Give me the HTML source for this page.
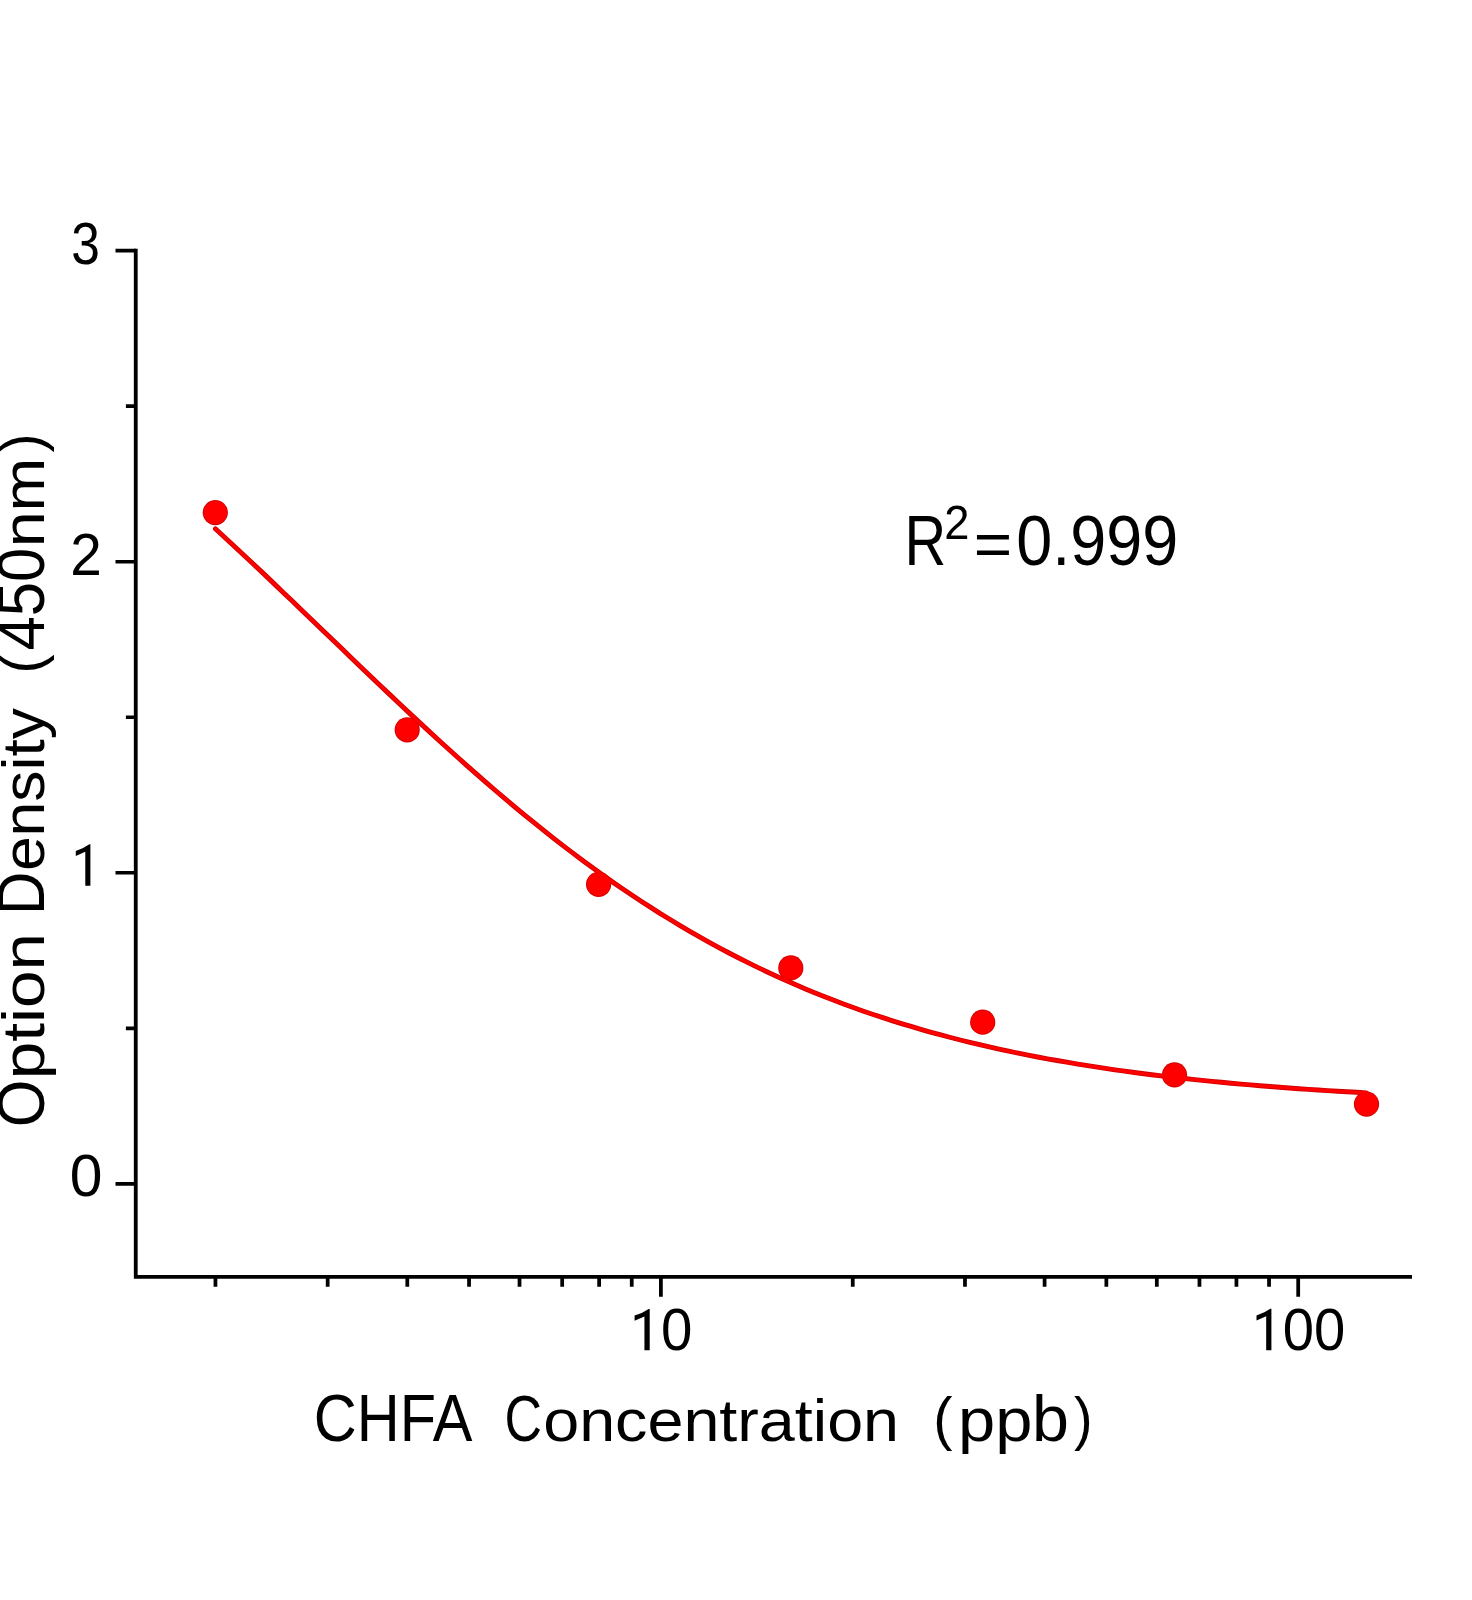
<!DOCTYPE html>
<html><head><meta charset="utf-8"><style>
html,body{margin:0;padding:0;background:#fff;}
svg{display:block;will-change:transform;}
text{font-family:"Liberation Sans",sans-serif;fill:#000;}
</style></head><body>
<svg width="1472" height="1600" viewBox="0 0 1472 1600">
<rect width="1472" height="1600" fill="#fff"/>
<path d="M135.75,248.8 V1278.8 M133.85,1276.9 H1412" fill="none" stroke="#000" stroke-width="3.8"/>
<path d="M115.5,1183.90 H136 M115.5,872.80 H136 M115.5,561.70 H136 M115.5,250.60 H136 M125.9,1028.35 H136 M125.9,717.25 H136 M125.9,406.15 H136" stroke="#000" stroke-width="3.6"/>
<path d="M660.90,1276 V1296.7 M1298.20,1276 V1296.7 M215.45,1276 V1286.7 M327.67,1276 V1286.7 M407.29,1276 V1286.7 M469.05,1276 V1286.7 M519.52,1276 V1286.7 M562.18,1276 V1286.7 M599.14,1276 V1286.7 M631.74,1276 V1286.7 M852.75,1276 V1286.7 M964.97,1276 V1286.7 M1044.59,1276 V1286.7 M1106.35,1276 V1286.7 M1156.82,1276 V1286.7 M1199.48,1276 V1286.7 M1236.44,1276 V1286.7 M1269.04,1276 V1286.7" stroke="#000" stroke-width="3.75"/>
<g fill="#d00000"><path d="M215.4,528.8 L225.1,537.7 L234.8,546.7 L244.5,555.7 L254.1,564.8 L263.8,573.9 L273.5,583.1 L283.2,592.4 L292.8,601.6 L302.5,610.9 L312.2,620.2 L321.8,629.5 L331.5,638.8 L341.2,648.1 L350.9,657.4 L360.5,666.7 L370.2,676.0 L379.9,685.2 L389.6,694.4 L399.2,703.5 L408.9,712.6 L418.6,721.6 L428.3,730.6 L437.9,739.5 L447.6,748.3 L457.3,757.0 L466.9,765.6 L476.6,774.2 L486.3,782.6 L496.0,791.0 L505.6,799.2 L515.3,807.3 L525.0,815.3 L534.7,823.2 L544.3,830.9 L554.0,838.6 L563.7,846.1 L573.3,853.4 L583.0,860.7 L592.7,867.8 L602.4,874.7 L612.0,881.6 L621.7,888.2 L631.4,894.8 L641.1,901.2 L650.7,907.4 L660.4,913.6 L670.1,919.5 L679.7,925.4 L689.4,931.1 L699.1,936.6 L708.8,942.1 L718.4,947.3 L728.1,952.5 L737.8,957.5 L747.5,962.4 L757.1,967.1 L766.8,971.7 L776.5,976.2 L786.1,980.6 L795.8,984.8 L805.5,988.9 L815.2,992.9 L824.8,996.8 L834.5,1000.5 L844.2,1004.2 L853.9,1007.7 L863.5,1011.2 L873.2,1014.5 L882.9,1017.7 L892.6,1020.8 L902.2,1023.8 L911.9,1026.7 L921.6,1029.6 L931.2,1032.3 L940.9,1034.9 L950.6,1037.5 L960.3,1040.0 L969.9,1042.4 L979.6,1044.7 L989.3,1046.9 L999.0,1049.1 L1008.6,1051.2 L1018.3,1053.2 L1028.0,1055.1 L1037.6,1057.0 L1047.3,1058.8 L1057.0,1060.5 L1066.7,1062.2 L1076.3,1063.9 L1086.0,1065.4 L1095.7,1066.9 L1105.4,1068.4 L1115.0,1069.8 L1124.7,1071.2 L1134.4,1072.5 L1144.0,1073.7 L1153.7,1075.0 L1163.4,1076.1 L1173.1,1077.3 L1182.7,1078.3 L1192.4,1079.4 L1202.1,1080.4 L1211.8,1081.4 L1221.4,1082.3 L1231.1,1083.2 L1240.8,1084.1 L1250.4,1084.9 L1260.1,1085.7 L1269.8,1086.5 L1279.5,1087.3 L1289.1,1088.0 L1298.8,1088.7 L1308.5,1089.4 L1318.2,1090.0 L1327.8,1090.6 L1337.5,1091.2 L1347.2,1091.8 L1356.9,1092.3 L1366.5,1092.9" fill="none" stroke="#d00000" stroke-width="4.9" stroke-linecap="round" stroke-linejoin="round"/>
<circle cx="215.3" cy="512.6" r="12.6"/>
<circle cx="407.2" cy="729.8" r="12.6"/>
<circle cx="598.6" cy="884.3" r="12.6"/>
<circle cx="790.8" cy="967.9" r="12.6"/>
<circle cx="982.7" cy="1022.2" r="12.6"/>
<circle cx="1174.5" cy="1074.9" r="12.6"/>
<circle cx="1366.5" cy="1104.1" r="12.6"/>
</g>
<g fill="#ff0000"><path d="M215.4,528.8 L225.1,537.7 L234.8,546.7 L244.5,555.7 L254.1,564.8 L263.8,573.9 L273.5,583.1 L283.2,592.4 L292.8,601.6 L302.5,610.9 L312.2,620.2 L321.8,629.5 L331.5,638.8 L341.2,648.1 L350.9,657.4 L360.5,666.7 L370.2,676.0 L379.9,685.2 L389.6,694.4 L399.2,703.5 L408.9,712.6 L418.6,721.6 L428.3,730.6 L437.9,739.5 L447.6,748.3 L457.3,757.0 L466.9,765.6 L476.6,774.2 L486.3,782.6 L496.0,791.0 L505.6,799.2 L515.3,807.3 L525.0,815.3 L534.7,823.2 L544.3,830.9 L554.0,838.6 L563.7,846.1 L573.3,853.4 L583.0,860.7 L592.7,867.8 L602.4,874.7 L612.0,881.6 L621.7,888.2 L631.4,894.8 L641.1,901.2 L650.7,907.4 L660.4,913.6 L670.1,919.5 L679.7,925.4 L689.4,931.1 L699.1,936.6 L708.8,942.1 L718.4,947.3 L728.1,952.5 L737.8,957.5 L747.5,962.4 L757.1,967.1 L766.8,971.7 L776.5,976.2 L786.1,980.6 L795.8,984.8 L805.5,988.9 L815.2,992.9 L824.8,996.8 L834.5,1000.5 L844.2,1004.2 L853.9,1007.7 L863.5,1011.2 L873.2,1014.5 L882.9,1017.7 L892.6,1020.8 L902.2,1023.8 L911.9,1026.7 L921.6,1029.6 L931.2,1032.3 L940.9,1034.9 L950.6,1037.5 L960.3,1040.0 L969.9,1042.4 L979.6,1044.7 L989.3,1046.9 L999.0,1049.1 L1008.6,1051.2 L1018.3,1053.2 L1028.0,1055.1 L1037.6,1057.0 L1047.3,1058.8 L1057.0,1060.5 L1066.7,1062.2 L1076.3,1063.9 L1086.0,1065.4 L1095.7,1066.9 L1105.4,1068.4 L1115.0,1069.8 L1124.7,1071.2 L1134.4,1072.5 L1144.0,1073.7 L1153.7,1075.0 L1163.4,1076.1 L1173.1,1077.3 L1182.7,1078.3 L1192.4,1079.4 L1202.1,1080.4 L1211.8,1081.4 L1221.4,1082.3 L1231.1,1083.2 L1240.8,1084.1 L1250.4,1084.9 L1260.1,1085.7 L1269.8,1086.5 L1279.5,1087.3 L1289.1,1088.0 L1298.8,1088.7 L1308.5,1089.4 L1318.2,1090.0 L1327.8,1090.6 L1337.5,1091.2 L1347.2,1091.8 L1356.9,1092.3 L1366.5,1092.9" fill="none" stroke="#ff0000" stroke-width="3.1" stroke-linecap="round" stroke-linejoin="round"/>
<circle cx="215.3" cy="512.6" r="11.7"/>
<circle cx="407.2" cy="729.8" r="11.7"/>
<circle cx="598.6" cy="884.3" r="11.7"/>
<circle cx="790.8" cy="967.9" r="11.7"/>
<circle cx="982.7" cy="1022.2" r="11.7"/>
<circle cx="1174.5" cy="1074.9" r="11.7"/>
<circle cx="1366.5" cy="1104.1" r="11.7"/>
</g>
<text transform="translate(71.34,264.20) scale(0.8812,1)" font-size="58.5">3</text>
<text transform="translate(70.36,574.80) scale(0.9695,1)" font-size="58.5">2</text>
<path d="M90.40,844.30 L90.40,885.70 L85.29,885.70 L85.29,851.71 L75.80,856.02 L75.80,850.88 Q83.83,848.44 89.35,844.30 Z" fill="#000"/>
<text transform="translate(69.65,1196.40) scale(1.0041,1)" font-size="58.5">0</text>
<path d="M649.70,1309.00 L649.70,1350.30 L644.42,1350.30 L644.42,1316.39 L634.60,1320.69 L634.60,1315.57 Q642.91,1313.13 648.61,1309.00 Z" fill="#000"/>
<text transform="translate(660.94,1350.00) scale(0.9647,1)" font-size="58.5">0</text>
<path d="M1271.40,1308.80 L1271.40,1350.30 L1266.18,1350.30 L1266.18,1316.23 L1256.50,1320.54 L1256.50,1315.40 Q1264.70,1312.95 1270.33,1308.80 Z" fill="#000"/>
<text transform="translate(1282.75,1350.00) scale(0.9611,1)" font-size="58.5">00</text>
<text transform="translate(313.72,1441.20) scale(0.8841,1)" font-size="67.3">CHFA</text>
<text transform="translate(504.60,1441.00) scale(0.8054,1)" font-size="64.5">C</text>
<text transform="translate(543.20,1440.80) scale(1.0851,1)" font-size="59.6">oncentration</text>
<text transform="translate(933.14,1438.80) scale(0.9817,1)" font-size="58.8">(</text>
<text transform="translate(957.97,1441.00) scale(1.1050,1)" font-size="60.5">pp</text>
<text transform="translate(1031.99,1441.00) scale(1.0301,1)" font-size="64.5">b</text>
<text transform="translate(1073.93,1438.80) scale(0.9494,1)" font-size="58.8">)</text>
<text transform="translate(904.48,564.80) scale(0.8292,1)" font-size="69.7">R</text>
<text transform="translate(944.23,538.70) scale(0.9463,1)" font-size="47.9">2</text>
<text transform="translate(973.71,564.50) scale(1.0612,1)" font-size="62">=</text>
<text transform="translate(1016.21,564.90) scale(0.9278,1)" font-size="69.8">0.999</text>
<text transform="translate(44.30,1127.35) rotate(-90) scale(0.9089,1)" font-size="67.3">O</text>
<text transform="translate(44.30,1079.17) rotate(-90) scale(1.1309,1)" font-size="59.6">ption</text>
<text transform="translate(44.30,914.90) rotate(-90) scale(0.8915,1)" font-size="67.3">D</text>
<text transform="translate(44.30,871.10) rotate(-90) scale(1.0472,1)" font-size="59.6">ensity</text>
<text transform="translate(41.80,673.61) rotate(-90) scale(0.9687,1)" font-size="58.8">(</text>
<text transform="translate(44.30,650.44) rotate(-90) scale(0.9336,1)" font-size="66">450</text>
<text transform="translate(44.30,547.30) rotate(-90) scale(1.0815,1)" font-size="59.6">nm</text>
<text transform="translate(41.80,452.38) rotate(-90) scale(0.9687,1)" font-size="58.8">)</text>
</svg>
</body></html>
